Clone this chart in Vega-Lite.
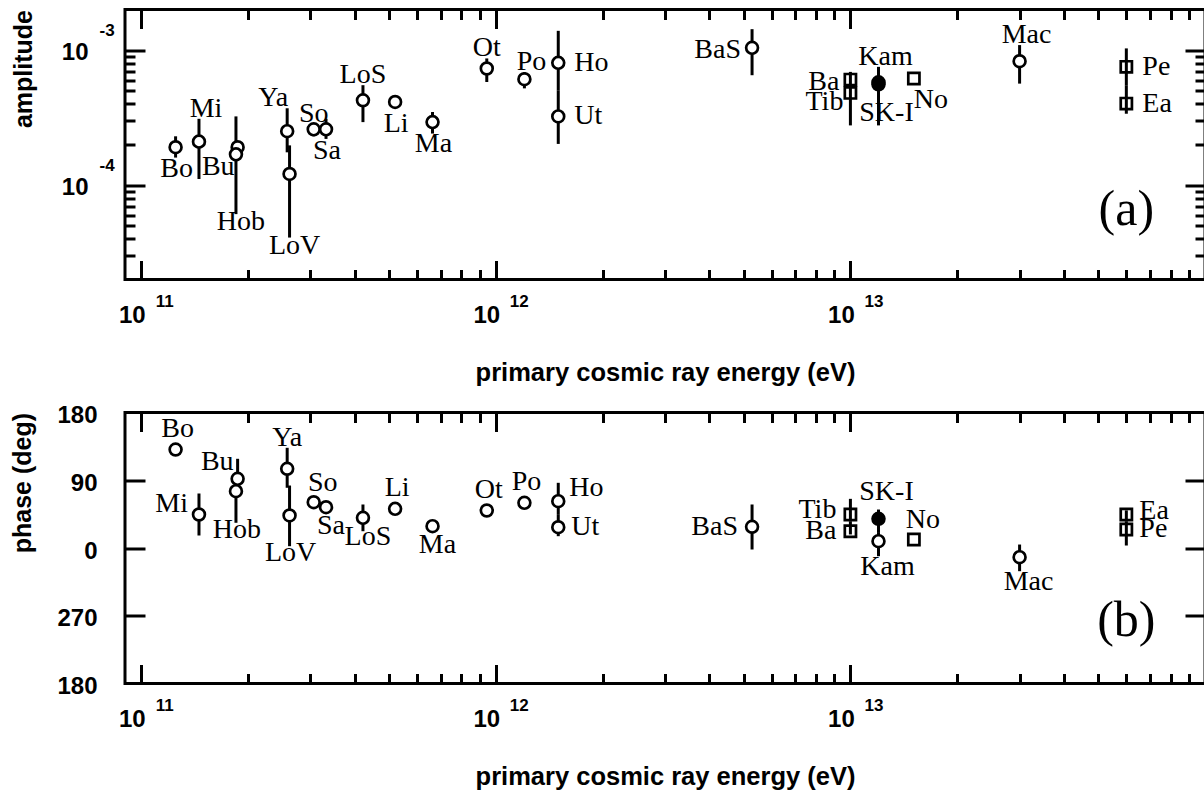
{
  "$schema": "https://vega.github.io/schema/vega-lite/v6.json",
  "background": "white",
  "padding": {"left": 9, "top": 6.5, "right": 0, "bottom": 0},
  "spacing": 14,
  "config": {
    "view": {"stroke": "black", "strokeWidth": 3},
    "axis": {"domain": false, "grid": false, "tickColor": "black", "tickWidth": 3, "labelColor": "black", "labelFont": "Liberation Sans", "labelFontWeight": "bold", "titleFont": "Liberation Sans", "titleFontWeight": "bold", "titleColor": "black", "labelFlush": false, "labelOverlap": false}
  },
  "datasets": {
    "amp": [
      {"n": "Bo", "e": 1.25e11, "v": 1.91e-4, "lo": 1.6e-4, "hi": 2.3e-4, "k": "open"},
      {"n": "Mi", "e": 1.455e11, "v": 2.1e-4, "lo": 1.11e-4, "hi": 3.1e-4, "k": "open"},
      {"n": "Bu", "e": 1.87e11, "v": 1.91e-4, "lo": 1.8e-4, "hi": 2.02e-4, "k": "open"},
      {"n": "Hob", "e": 1.85e11, "v": 1.69e-4, "lo": 6.1e-5, "hi": 3.23e-4, "k": "open"},
      {"n": "Ya", "e": 2.58e11, "v": 2.51e-4, "lo": 1.75e-4, "hi": 3.71e-4, "k": "open"},
      {"n": "LoV", "e": 2.62e11, "v": 1.21e-4, "lo": 4.09e-5, "hi": 1.97e-4, "k": "open"},
      {"n": "So", "e": 3.065e11, "v": 2.59e-4, "lo": 2.3e-4, "hi": 2.82e-4, "k": "open"},
      {"n": "Sa", "e": 3.32e11, "v": 2.59e-4, "lo": 2.2e-4, "hi": 3.1e-4, "k": "open"},
      {"n": "LoS", "e": 4.22e11, "v": 4.25e-4, "lo": 2.93e-4, "hi": 5.5e-4, "k": "open"},
      {"n": "Li", "e": 5.2e11, "v": 4.13e-4, "lo": 3.84e-4, "hi": 4.48e-4, "k": "open"},
      {"n": "Ma", "e": 6.63e11, "v": 2.93e-4, "lo": 2.41e-4, "hi": 3.48e-4, "k": "open"},
      {"n": "Ot", "e": 9.43e11, "v": 7.31e-4, "lo": 5.81e-4, "hi": 8.68e-4, "k": "open"},
      {"n": "Po", "e": 1.204e12, "v": 6.09e-4, "lo": 5.21e-4, "hi": 6.86e-4, "k": "open"},
      {"n": "Ho", "e": 1.5e12, "v": 8.05e-4, "lo": 5.05e-4, "hi": 1.39e-3, "k": "open"},
      {"n": "Ut", "e": 1.5e12, "v": 3.23e-4, "lo": 2.02e-4, "hi": 5.05e-4, "k": "open"},
      {"n": "BaS", "e": 5.28e12, "v": 1.04e-3, "lo": 6.52e-4, "hi": 1.43e-3, "k": "open"},
      {"n": "Ba", "e": 1.0e13, "v": 6.05e-4, "lo": 5.3e-4, "hi": 6.9e-4, "k": "square"},
      {"n": "Tib", "e": 1.0e13, "v": 4.82e-4, "lo": 2.77e-4, "hi": 5.5e-4, "k": "square"},
      {"n": "Kam", "e": 1.2e13, "v": 5.78e-4, "lo": 5.0e-4, "hi": 7.52e-4, "k": "open"},
      {"n": "SK-I", "e": 1.2e13, "v": 5.59e-4, "lo": 2.77e-4, "hi": 6.2e-4, "k": "filled"},
      {"n": "No", "e": 1.51e13, "v": 6.16e-4, "lo": 6.16e-4, "hi": 6.16e-4, "k": "square"},
      {"n": "Mac", "e": 3.0e13, "v": 8.28e-4, "lo": 5.65e-4, "hi": 1.09e-3, "k": "open"},
      {"n": "Pe", "e": 6.0e13, "v": 7.52e-4, "lo": 5.5e-4, "hi": 1.03e-3, "k": "square"},
      {"n": "Ea", "e": 6.0e13, "v": 4.02e-4, "lo": 3.38e-4, "hi": 5.5e-4, "k": "square"}
    ],
    "phase": [
      {"n": "Bo", "e": 1.25e11, "v": 130.8, "lo": 126, "hi": 136, "k": "open"},
      {"n": "Mi", "e": 1.455e11, "v": 44.5, "lo": 16.6, "hi": 72.4, "k": "open"},
      {"n": "Bu", "e": 1.87e11, "v": 91.9, "lo": 82, "hi": 118.5, "k": "open"},
      {"n": "Hob", "e": 1.85e11, "v": 75.5, "lo": 33.5, "hi": 85, "k": "open"},
      {"n": "Ya", "e": 2.58e11, "v": 105.2, "lo": 80, "hi": 133.1, "k": "open"},
      {"n": "LoV", "e": 2.62e11, "v": 43.2, "lo": 2.4, "hi": 83, "k": "open"},
      {"n": "So", "e": 3.065e11, "v": 60.8, "lo": 57, "hi": 65, "k": "open"},
      {"n": "Sa", "e": 3.32e11, "v": 54.2, "lo": 50, "hi": 58, "k": "open"},
      {"n": "LoS", "e": 4.22e11, "v": 40.1, "lo": 22.3, "hi": 57.8, "k": "open"},
      {"n": "Li", "e": 5.2e11, "v": 52, "lo": 48, "hi": 56, "k": "open"},
      {"n": "Ma", "e": 6.63e11, "v": 29, "lo": 25, "hi": 33, "k": "open"},
      {"n": "Ot", "e": 9.43e11, "v": 49.8, "lo": 42, "hi": 57, "k": "open"},
      {"n": "Po", "e": 1.204e12, "v": 60, "lo": 56, "hi": 64, "k": "open"},
      {"n": "Ho", "e": 1.5e12, "v": 62.2, "lo": 45, "hi": 86.6, "k": "open"},
      {"n": "Ut", "e": 1.5e12, "v": 27.6, "lo": 15.7, "hi": 45, "k": "open"},
      {"n": "BaS", "e": 5.28e12, "v": 28.2, "lo": -2, "hi": 57.8, "k": "open"},
      {"n": "Ba", "e": 1.0e13, "v": 22.3, "lo": 18, "hi": 35, "k": "square"},
      {"n": "Tib", "e": 1.0e13, "v": 44.5, "lo": 35, "hi": 65.3, "k": "square"},
      {"n": "Kam", "e": 1.2e13, "v": 9.1, "lo": -10.9, "hi": 20, "k": "open"},
      {"n": "SK-I", "e": 1.2e13, "v": 38.8, "lo": 20, "hi": 51.1, "k": "filled"},
      {"n": "No", "e": 1.51e13, "v": 11.3, "lo": 11.3, "hi": 11.3, "k": "square"},
      {"n": "Mac", "e": 3.0e13, "v": -12.2, "lo": -30.8, "hi": 4.6, "k": "open"},
      {"n": "Pe", "e": 6.0e13, "v": 24.6, "lo": 3.3, "hi": 35, "k": "square"},
      {"n": "Ea", "e": 6.0e13, "v": 44.5, "lo": 35, "hi": 50, "k": "square"}
    ]
  },
  "vconcat": [
    {
      "width": 1080,
      "height": 270,
      "data": {"name": "amp"},
      "resolve": {"axis": {"x": "independent", "y": "independent"}},
      "layer": [
        {
          "mark": {"type": "rule", "color": "black", "strokeWidth": 3},
          "encoding": {
            "x": {"field": "e", "type": "quantitative", "scale": {"type": "log", "domain": [9e10, 1e14], "nice": false}, "axis": {"orient": "bottom", "values": [1e11, 1e12, 1e13], "tickSize": -19, "labels": false, "title": null}},
            "y": {"field": "lo", "type": "quantitative", "scale": {"type": "log", "domain": [2e-5, 2e-3], "nice": false}, "axis": {"orient": "left", "values": [1e-4, 1e-3], "tickSize": -20, "labels": false, "title": null}},
            "y2": {"field": "hi"}
          }
        },
        {
          "transform": [{"filter": "datum.k === 'open'"}],
          "mark": {"type": "point", "shape": "circle", "size": 140, "fill": "white", "stroke": "black", "strokeWidth": 2.7, "opacity": 1},
          "encoding": {
            "x": {"field": "e", "type": "quantitative", "scale": {"type": "log", "domain": [9e10, 1e14], "nice": false}, "axis": {"orient": "bottom", "values": [2e11, 3e11, 4e11, 5e11, 6e11, 7e11, 8e11, 9e11, 2e12, 3e12, 4e12, 5e12, 6e12, 7e12, 8e12, 9e12, 2e13, 3e13, 4e13, 5e13, 6e13, 7e13, 8e13, 9e13], "tickSize": -10, "labels": false, "title": null}},
            "y": {"field": "v", "type": "quantitative", "scale": {"type": "log", "domain": [2e-5, 2e-3], "nice": false}, "axis": {"orient": "left", "values": [3e-5, 4e-5, 5e-5, 6e-5, 7e-5, 8e-5, 9e-5, 2e-4, 3e-4, 4e-4, 5e-4, 6e-4, 7e-4, 8e-4, 9e-4], "tickSize": -10, "labels": false, "title": null}}
          }
        },
        {
          "transform": [{"filter": "datum.k === 'square'"}],
          "mark": {"type": "point", "shape": "square", "size": 125, "filled": false, "stroke": "black", "strokeWidth": 2.7, "opacity": 1},
          "encoding": {
            "x": {"field": "e", "type": "quantitative", "scale": {"type": "log", "domain": [9e10, 1e14], "nice": false}, "axis": {"orient": "bottom", "values": [1e11, 1e12, 1e13], "ticks": false, "labelExpr": "'10'", "labelFontSize": 24, "labelPadding": 24, "labelOffset": -9.5, "labelAlign": "center", "title": "primary cosmic ray energy (eV)", "titleFontSize": 25.5, "titlePadding": 33}},
            "y": {"field": "v", "type": "quantitative", "scale": {"type": "log", "domain": [2e-5, 2e-3], "nice": false}, "axis": {"orient": "left", "values": [1e-4, 1e-3], "ticks": false, "labelExpr": "'10'", "labelFontSize": 24, "labelPadding": 37, "labelOffset": 2, "labelAlign": "right", "labelBaseline": "middle", "title": "amplitude", "titleFontSize": 25, "titleAnchor": "end", "titlePadding": 25}}
          }
        },
        {
          "transform": [{"filter": "datum.k === 'filled'"}],
          "mark": {"type": "point", "shape": "circle", "size": 140, "fill": "black", "stroke": "black", "strokeWidth": 2.7, "opacity": 1},
          "encoding": {
            "x": {"field": "e", "type": "quantitative", "scale": {"type": "log", "domain": [9e10, 1e14], "nice": false}, "axis": {"orient": "bottom", "values": [1e11, 1e12, 1e13], "ticks": false, "labelExpr": "'' + round(log(datum.value) / LN10)", "labelFontSize": 17, "labelPadding": 14, "labelOffset": 23, "labelAlign": "center", "title": null}},
            "y": {"field": "v", "type": "quantitative", "scale": {"type": "log", "domain": [2e-5, 2e-3], "nice": false}, "axis": {"orient": "left", "values": [1e-4, 1e-3], "ticks": false, "labelExpr": "'' + round(log(datum.value) / LN10)", "labelFontSize": 17, "labelPadding": 26, "labelOffset": -20, "labelAlign": "left", "labelBaseline": "middle", "title": null}}
          }
        },
        {
          "transform": [{"filter": {"field": "n", "oneOf": ["So", "LoS", "Ot"]}}],
          "mark": {"type": "text", "font": "Liberation Serif", "fontSize": 28, "color": "black", "align": "center", "baseline": "alphabetic", "dx": 0, "dy": -2},
          "encoding": {
            "x": {"field": "e", "type": "quantitative", "scale": {"type": "log", "domain": [9e10, 1e14], "nice": false}, "axis": {"orient": "top", "values": [1e11, 1e12, 1e13], "tickSize": -19, "labels": false, "title": null}},
            "y": {"field": "hi", "type": "quantitative", "scale": {"type": "log", "domain": [2e-5, 2e-3], "nice": false}, "axis": {"orient": "right", "values": [1e-4, 1e-3], "tickSize": -20, "labels": false, "title": null}},
            "text": {"field": "n"}
          }
        },
        {
          "transform": [{"filter": {"field": "n", "oneOf": ["Mi", "Po", "Kam", "Mac"]}}],
          "mark": {"type": "text", "font": "Liberation Serif", "fontSize": 28, "color": "black", "align": "center", "baseline": "alphabetic", "dx": 7, "dy": -2},
          "encoding": {
            "x": {"field": "e", "type": "quantitative", "scale": {"type": "log", "domain": [9e10, 1e14], "nice": false}, "axis": {"orient": "top", "values": [2e11, 3e11, 4e11, 5e11, 6e11, 7e11, 8e11, 9e11, 2e12, 3e12, 4e12, 5e12, 6e12, 7e12, 8e12, 9e12, 2e13, 3e13, 4e13, 5e13, 6e13, 7e13, 8e13, 9e13], "tickSize": -10, "labels": false, "title": null}},
            "y": {"field": "hi", "type": "quantitative", "scale": {"type": "log", "domain": [2e-5, 2e-3], "nice": false}, "axis": {"orient": "right", "values": [3e-5, 4e-5, 5e-5, 6e-5, 7e-5, 8e-5, 9e-5, 2e-4, 3e-4, 4e-4, 5e-4, 6e-4, 7e-4, 8e-4, 9e-4], "tickSize": -10, "labels": false, "title": null}},
            "text": {"field": "n"}
          }
        },
        {
          "transform": [{"filter": {"field": "n", "oneOf": ["Ya"]}}],
          "mark": {"type": "text", "font": "Liberation Serif", "fontSize": 28, "color": "black", "align": "center", "baseline": "alphabetic", "dx": -14, "dy": -2},
          "encoding": {
            "x": {"field": "e", "type": "quantitative", "scale": {"type": "log", "domain": [9e10, 1e14], "nice": false}, "axis": null},
            "y": {"field": "hi", "type": "quantitative", "scale": {"type": "log", "domain": [2e-5, 2e-3], "nice": false}, "axis": null},
            "text": {"field": "n"}
          }
        },
        {
          "transform": [{"filter": {"field": "n", "oneOf": ["Bo", "Sa", "Li", "Ma"]}}],
          "mark": {"type": "text", "font": "Liberation Serif", "fontSize": 28, "color": "black", "align": "center", "baseline": "middle", "dx": 1, "dy": 22},
          "encoding": {
            "x": {"field": "e", "type": "quantitative", "scale": {"type": "log", "domain": [9e10, 1e14], "nice": false}, "axis": null},
            "y": {"field": "v", "type": "quantitative", "scale": {"type": "log", "domain": [2e-5, 2e-3], "nice": false}, "axis": null},
            "text": {"field": "n"}
          }
        },
        {
          "transform": [{"filter": {"field": "n", "oneOf": ["Hob", "LoV"]}}],
          "mark": {"type": "text", "font": "Liberation Serif", "fontSize": 28, "color": "black", "align": "center", "baseline": "middle", "dx": 5, "dy": 8},
          "encoding": {
            "x": {"field": "e", "type": "quantitative", "scale": {"type": "log", "domain": [9e10, 1e14], "nice": false}, "axis": null},
            "y": {"field": "lo", "type": "quantitative", "scale": {"type": "log", "domain": [2e-5, 2e-3], "nice": false}, "axis": null},
            "text": {"field": "n"}
          }
        },
        {
          "transform": [{"filter": {"field": "n", "oneOf": ["BaS", "Ba"]}}],
          "mark": {"type": "text", "font": "Liberation Serif", "fontSize": 28, "color": "black", "align": "right", "baseline": "middle", "dx": -11, "dy": 2},
          "encoding": {
            "x": {"field": "e", "type": "quantitative", "scale": {"type": "log", "domain": [9e10, 1e14], "nice": false}, "axis": null},
            "y": {"field": "v", "type": "quantitative", "scale": {"type": "log", "domain": [2e-5, 2e-3], "nice": false}, "axis": null},
            "text": {"field": "n"}
          }
        },
        {
          "transform": [{"filter": {"field": "n", "oneOf": ["Tib"]}}],
          "mark": {"type": "text", "font": "Liberation Serif", "fontSize": 28, "color": "black", "align": "right", "baseline": "middle", "dx": -7, "dy": 9},
          "encoding": {
            "x": {"field": "e", "type": "quantitative", "scale": {"type": "log", "domain": [9e10, 1e14], "nice": false}, "axis": null},
            "y": {"field": "v", "type": "quantitative", "scale": {"type": "log", "domain": [2e-5, 2e-3], "nice": false}, "axis": null},
            "text": {"field": "n"}
          }
        },
        {
          "transform": [{"filter": {"field": "n", "oneOf": ["Bu"]}}],
          "mark": {"type": "text", "font": "Liberation Serif", "fontSize": 28, "color": "black", "align": "right", "baseline": "middle", "dx": -3, "dy": 20},
          "encoding": {
            "x": {"field": "e", "type": "quantitative", "scale": {"type": "log", "domain": [9e10, 1e14], "nice": false}, "axis": null},
            "y": {"field": "v", "type": "quantitative", "scale": {"type": "log", "domain": [2e-5, 2e-3], "nice": false}, "axis": null},
            "text": {"field": "n"}
          }
        },
        {
          "transform": [{"filter": {"field": "n", "oneOf": ["Ho", "Ut", "Pe", "Ea"]}}],
          "mark": {"type": "text", "font": "Liberation Serif", "fontSize": 28, "color": "black", "align": "left", "baseline": "middle", "dx": 16, "dy": 0},
          "encoding": {
            "x": {"field": "e", "type": "quantitative", "scale": {"type": "log", "domain": [9e10, 1e14], "nice": false}, "axis": null},
            "y": {"field": "v", "type": "quantitative", "scale": {"type": "log", "domain": [2e-5, 2e-3], "nice": false}, "axis": null},
            "text": {"field": "n"}
          }
        },
        {
          "transform": [{"filter": {"field": "n", "oneOf": ["SK-I"]}}],
          "mark": {"type": "text", "font": "Liberation Serif", "fontSize": 28, "color": "black", "align": "center", "baseline": "middle", "dx": 8, "dy": 29},
          "encoding": {
            "x": {"field": "e", "type": "quantitative", "scale": {"type": "log", "domain": [9e10, 1e14], "nice": false}, "axis": null},
            "y": {"field": "v", "type": "quantitative", "scale": {"type": "log", "domain": [2e-5, 2e-3], "nice": false}, "axis": null},
            "text": {"field": "n"}
          }
        },
        {
          "transform": [{"filter": {"field": "n", "oneOf": ["No"]}}],
          "mark": {"type": "text", "font": "Liberation Serif", "fontSize": 28, "color": "black", "align": "center", "baseline": "middle", "dx": 17, "dy": 21},
          "encoding": {
            "x": {"field": "e", "type": "quantitative", "scale": {"type": "log", "domain": [9e10, 1e14], "nice": false}, "axis": null},
            "y": {"field": "v", "type": "quantitative", "scale": {"type": "log", "domain": [2e-5, 2e-3], "nice": false}, "axis": null},
            "text": {"field": "n"}
          }
        },
        {
          "data": {"values": [{"e": 6.0e13, "v": 6.6e-5, "t": "(a)"}]},
          "mark": {"type": "text", "font": "Liberation Serif", "fontSize": 50, "color": "black", "align": "center", "baseline": "middle"},
          "encoding": {
            "x": {"field": "e", "type": "quantitative", "scale": {"type": "log", "domain": [9e10, 1e14], "nice": false}, "axis": null},
            "y": {"field": "v", "type": "quantitative", "scale": {"type": "log", "domain": [2e-5, 2e-3], "nice": false}, "axis": null},
            "text": {"field": "t"}
          }
        }
      ]
    },
    {
      "width": 1080,
      "height": 271,
      "data": {"name": "phase"},
      "resolve": {"axis": {"x": "independent", "y": "independent"}},
      "layer": [
        {
          "mark": {"type": "rule", "color": "black", "strokeWidth": 3},
          "encoding": {
            "x": {"field": "e", "type": "quantitative", "scale": {"type": "log", "domain": [9e10, 1e14], "nice": false}, "axis": {"orient": "bottom", "values": [1e11, 1e12, 1e13], "tickSize": -19, "labels": false, "title": null}},
            "y": {"field": "lo", "type": "quantitative", "scale": {"type": "linear", "domain": [-180, 180], "nice": false, "zero": false}, "axis": {"orient": "left", "values": [-90, 0, 90], "tickSize": -20, "labels": false, "title": null}},
            "y2": {"field": "hi"}
          }
        },
        {
          "transform": [{"filter": "datum.k === 'open'"}],
          "mark": {"type": "point", "shape": "circle", "size": 140, "fill": "white", "stroke": "black", "strokeWidth": 2.7, "opacity": 1},
          "encoding": {
            "x": {"field": "e", "type": "quantitative", "scale": {"type": "log", "domain": [9e10, 1e14], "nice": false}, "axis": {"orient": "bottom", "values": [2e11, 3e11, 4e11, 5e11, 6e11, 7e11, 8e11, 9e11, 2e12, 3e12, 4e12, 5e12, 6e12, 7e12, 8e12, 9e12, 2e13, 3e13, 4e13, 5e13, 6e13, 7e13, 8e13, 9e13], "tickSize": -10, "labels": false, "title": null}},
            "y": {"field": "v", "type": "quantitative", "scale": {"type": "linear", "domain": [-180, 180], "nice": false, "zero": false}, "axis": {"orient": "left", "values": [-180, -90, 0, 90, 180], "ticks": false, "labelExpr": "datum.value < 0 ? '' + (datum.value + 360) : '' + datum.value", "labelFontSize": 24, "labelPadding": 28, "labelOffset": 3, "labelAlign": "right", "labelBaseline": "middle", "title": "phase (deg)", "titleFontSize": 25, "titleAnchor": "end", "titlePadding": 21}}
          }
        },
        {
          "transform": [{"filter": "datum.k === 'square'"}],
          "mark": {"type": "point", "shape": "square", "size": 125, "filled": false, "stroke": "black", "strokeWidth": 2.7, "opacity": 1},
          "encoding": {
            "x": {"field": "e", "type": "quantitative", "scale": {"type": "log", "domain": [9e10, 1e14], "nice": false}, "axis": {"orient": "bottom", "values": [1e11, 1e12, 1e13], "ticks": false, "labelExpr": "'10'", "labelFontSize": 24, "labelPadding": 24, "labelOffset": -9.5, "labelAlign": "center", "title": "primary cosmic ray energy (eV)", "titleFontSize": 25.5, "titlePadding": 33}},
            "y": {"field": "v", "type": "quantitative", "scale": {"type": "linear", "domain": [-180, 180], "nice": false, "zero": false}, "axis": {"orient": "right", "values": [-90, 0, 90], "tickSize": -20, "labels": false, "title": null}}
          }
        },
        {
          "transform": [{"filter": "datum.k === 'filled'"}],
          "mark": {"type": "point", "shape": "circle", "size": 140, "fill": "black", "stroke": "black", "strokeWidth": 2.7, "opacity": 1},
          "encoding": {
            "x": {"field": "e", "type": "quantitative", "scale": {"type": "log", "domain": [9e10, 1e14], "nice": false}, "axis": {"orient": "bottom", "values": [1e11, 1e12, 1e13], "ticks": false, "labelExpr": "'' + round(log(datum.value) / LN10)", "labelFontSize": 17, "labelPadding": 14, "labelOffset": 23, "labelAlign": "center", "title": null}},
            "y": {"field": "v", "type": "quantitative", "scale": {"type": "linear", "domain": [-180, 180], "nice": false, "zero": false}, "axis": null}
          }
        },
        {
          "transform": [{"filter": {"field": "n", "oneOf": ["Bo", "Li", "Ot", "Po"]}}],
          "mark": {"type": "text", "font": "Liberation Serif", "fontSize": 28, "color": "black", "align": "center", "baseline": "middle", "dx": 2, "dy": -21},
          "encoding": {
            "x": {"field": "e", "type": "quantitative", "scale": {"type": "log", "domain": [9e10, 1e14], "nice": false}, "axis": {"orient": "top", "values": [1e11, 1e12, 1e13], "tickSize": -19, "labels": false, "title": null}},
            "y": {"field": "v", "type": "quantitative", "scale": {"type": "linear", "domain": [-180, 180], "nice": false, "zero": false}, "axis": null},
            "text": {"field": "n"}
          }
        },
        {
          "transform": [{"filter": {"field": "n", "oneOf": ["So", "No"]}}],
          "mark": {"type": "text", "font": "Liberation Serif", "fontSize": 28, "color": "black", "align": "center", "baseline": "middle", "dx": 9, "dy": -19},
          "encoding": {
            "x": {"field": "e", "type": "quantitative", "scale": {"type": "log", "domain": [9e10, 1e14], "nice": false}, "axis": {"orient": "top", "values": [2e11, 3e11, 4e11, 5e11, 6e11, 7e11, 8e11, 9e11, 2e12, 3e12, 4e12, 5e12, 6e12, 7e12, 8e12, 9e12, 2e13, 3e13, 4e13, 5e13, 6e13, 7e13, 8e13, 9e13], "tickSize": -10, "labels": false, "title": null}},
            "y": {"field": "v", "type": "quantitative", "scale": {"type": "linear", "domain": [-180, 180], "nice": false, "zero": false}, "axis": null},
            "text": {"field": "n"}
          }
        },
        {
          "transform": [{"filter": {"field": "n", "oneOf": ["Ya"]}}],
          "mark": {"type": "text", "font": "Liberation Serif", "fontSize": 28, "color": "black", "align": "center", "baseline": "alphabetic", "dx": 0, "dy": -2},
          "encoding": {
            "x": {"field": "e", "type": "quantitative", "scale": {"type": "log", "domain": [9e10, 1e14], "nice": false}, "axis": null},
            "y": {"field": "hi", "type": "quantitative", "scale": {"type": "linear", "domain": [-180, 180], "nice": false, "zero": false}, "axis": null},
            "text": {"field": "n"}
          }
        },
        {
          "transform": [{"filter": {"field": "n", "oneOf": ["SK-I"]}}],
          "mark": {"type": "text", "font": "Liberation Serif", "fontSize": 28, "color": "black", "align": "center", "baseline": "middle", "dx": 8, "dy": -27},
          "encoding": {
            "x": {"field": "e", "type": "quantitative", "scale": {"type": "log", "domain": [9e10, 1e14], "nice": false}, "axis": null},
            "y": {"field": "v", "type": "quantitative", "scale": {"type": "linear", "domain": [-180, 180], "nice": false, "zero": false}, "axis": null},
            "text": {"field": "n"}
          }
        },
        {
          "transform": [{"filter": {"field": "n", "oneOf": ["Sa", "LoS", "Ma"]}}],
          "mark": {"type": "text", "font": "Liberation Serif", "fontSize": 28, "color": "black", "align": "center", "baseline": "middle", "dx": 5, "dy": 19},
          "encoding": {
            "x": {"field": "e", "type": "quantitative", "scale": {"type": "log", "domain": [9e10, 1e14], "nice": false}, "axis": null},
            "y": {"field": "v", "type": "quantitative", "scale": {"type": "linear", "domain": [-180, 180], "nice": false, "zero": false}, "axis": null},
            "text": {"field": "n"}
          }
        },
        {
          "transform": [{"filter": {"field": "n", "oneOf": ["Hob", "LoV"]}}],
          "mark": {"type": "text", "font": "Liberation Serif", "fontSize": 28, "color": "black", "align": "center", "baseline": "middle", "dx": 1, "dy": 7},
          "encoding": {
            "x": {"field": "e", "type": "quantitative", "scale": {"type": "log", "domain": [9e10, 1e14], "nice": false}, "axis": null},
            "y": {"field": "lo", "type": "quantitative", "scale": {"type": "linear", "domain": [-180, 180], "nice": false, "zero": false}, "axis": null},
            "text": {"field": "n"}
          }
        },
        {
          "transform": [{"filter": {"field": "n", "oneOf": ["Kam", "Mac"]}}],
          "mark": {"type": "text", "font": "Liberation Serif", "fontSize": 28, "color": "black", "align": "center", "baseline": "middle", "dx": 9, "dy": 11},
          "encoding": {
            "x": {"field": "e", "type": "quantitative", "scale": {"type": "log", "domain": [9e10, 1e14], "nice": false}, "axis": null},
            "y": {"field": "lo", "type": "quantitative", "scale": {"type": "linear", "domain": [-180, 180], "nice": false, "zero": false}, "axis": null},
            "text": {"field": "n"}
          }
        },
        {
          "transform": [{"filter": {"field": "n", "oneOf": ["BaS", "Ba"]}}],
          "mark": {"type": "text", "font": "Liberation Serif", "fontSize": 28, "color": "black", "align": "right", "baseline": "middle", "dx": -14, "dy": 0},
          "encoding": {
            "x": {"field": "e", "type": "quantitative", "scale": {"type": "log", "domain": [9e10, 1e14], "nice": false}, "axis": null},
            "y": {"field": "v", "type": "quantitative", "scale": {"type": "linear", "domain": [-180, 180], "nice": false, "zero": false}, "axis": null},
            "text": {"field": "n"}
          }
        },
        {
          "transform": [{"filter": {"field": "n", "oneOf": ["Tib"]}}],
          "mark": {"type": "text", "font": "Liberation Serif", "fontSize": 28, "color": "black", "align": "right", "baseline": "middle", "dx": -14, "dy": -5},
          "encoding": {
            "x": {"field": "e", "type": "quantitative", "scale": {"type": "log", "domain": [9e10, 1e14], "nice": false}, "axis": null},
            "y": {"field": "v", "type": "quantitative", "scale": {"type": "linear", "domain": [-180, 180], "nice": false, "zero": false}, "axis": null},
            "text": {"field": "n"}
          }
        },
        {
          "transform": [{"filter": {"field": "n", "oneOf": ["Mi"]}}],
          "mark": {"type": "text", "font": "Liberation Serif", "fontSize": 28, "color": "black", "align": "right", "baseline": "middle", "dx": -11, "dy": -11},
          "encoding": {
            "x": {"field": "e", "type": "quantitative", "scale": {"type": "log", "domain": [9e10, 1e14], "nice": false}, "axis": null},
            "y": {"field": "v", "type": "quantitative", "scale": {"type": "linear", "domain": [-180, 180], "nice": false, "zero": false}, "axis": null},
            "text": {"field": "n"}
          }
        },
        {
          "transform": [{"filter": {"field": "n", "oneOf": ["Bu"]}}],
          "mark": {"type": "text", "font": "Liberation Serif", "fontSize": 28, "color": "black", "align": "right", "baseline": "middle", "dx": -4, "dy": -17},
          "encoding": {
            "x": {"field": "e", "type": "quantitative", "scale": {"type": "log", "domain": [9e10, 1e14], "nice": false}, "axis": null},
            "y": {"field": "v", "type": "quantitative", "scale": {"type": "linear", "domain": [-180, 180], "nice": false, "zero": false}, "axis": null},
            "text": {"field": "n"}
          }
        },
        {
          "transform": [{"filter": {"field": "n", "oneOf": ["Ut", "Pe"]}}],
          "mark": {"type": "text", "font": "Liberation Serif", "fontSize": 28, "color": "black", "align": "left", "baseline": "middle", "dx": 13, "dy": 0},
          "encoding": {
            "x": {"field": "e", "type": "quantitative", "scale": {"type": "log", "domain": [9e10, 1e14], "nice": false}, "axis": null},
            "y": {"field": "v", "type": "quantitative", "scale": {"type": "linear", "domain": [-180, 180], "nice": false, "zero": false}, "axis": null},
            "text": {"field": "n"}
          }
        },
        {
          "transform": [{"filter": {"field": "n", "oneOf": ["Ea"]}}],
          "mark": {"type": "text", "font": "Liberation Serif", "fontSize": 28, "color": "black", "align": "left", "baseline": "middle", "dx": 13, "dy": -4},
          "encoding": {
            "x": {"field": "e", "type": "quantitative", "scale": {"type": "log", "domain": [9e10, 1e14], "nice": false}, "axis": null},
            "y": {"field": "v", "type": "quantitative", "scale": {"type": "linear", "domain": [-180, 180], "nice": false, "zero": false}, "axis": null},
            "text": {"field": "n"}
          }
        },
        {
          "transform": [{"filter": {"field": "n", "oneOf": ["Ho"]}}],
          "mark": {"type": "text", "font": "Liberation Serif", "fontSize": 28, "color": "black", "align": "left", "baseline": "middle", "dx": 11, "dy": -13},
          "encoding": {
            "x": {"field": "e", "type": "quantitative", "scale": {"type": "log", "domain": [9e10, 1e14], "nice": false}, "axis": null},
            "y": {"field": "v", "type": "quantitative", "scale": {"type": "linear", "domain": [-180, 180], "nice": false, "zero": false}, "axis": null},
            "text": {"field": "n"}
          }
        },
        {
          "data": {"values": [{"e": 6.0e13, "v": -97, "t": "(b)"}]},
          "mark": {"type": "text", "font": "Liberation Serif", "fontSize": 50, "color": "black", "align": "center", "baseline": "middle"},
          "encoding": {
            "x": {"field": "e", "type": "quantitative", "scale": {"type": "log", "domain": [9e10, 1e14], "nice": false}, "axis": null},
            "y": {"field": "v", "type": "quantitative", "scale": {"type": "linear", "domain": [-180, 180], "nice": false, "zero": false}, "axis": null},
            "text": {"field": "t"}
          }
        }
      ]
    }
  ]
}
